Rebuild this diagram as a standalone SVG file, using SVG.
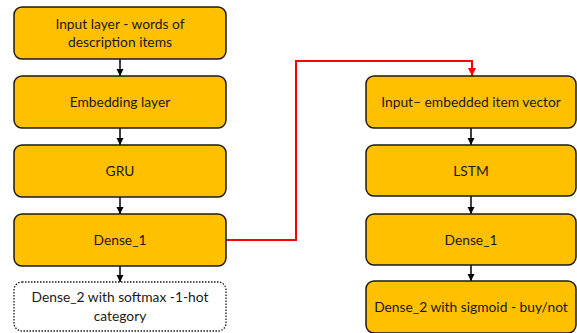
<svg xmlns="http://www.w3.org/2000/svg" width="577" height="333" viewBox="0 0 577 333">
<defs>
<marker id="ah" viewBox="0 0 10 10" refX="10" refY="5" markerWidth="5" markerHeight="5" orient="auto" markerUnits="strokeWidth"><path d="M0,0 L10,5 L0,10 z" fill="#000"/></marker>
<marker id="ahr" viewBox="0 0 10 10" refX="10" refY="5" markerWidth="4" markerHeight="4" orient="auto" markerUnits="strokeWidth"><path d="M0,0 L10,5 L0,10 z" fill="#FF0000"/></marker>
<style>
.box{fill:#FFC000;stroke:#1a1a1a;stroke-width:1.5}
.dbox{fill:#fff;stroke:#1a1a1a;stroke-width:1.3;stroke-dasharray:1.5 1.5}
text{font-family:Lato,"Open Sans","Liberation Sans",sans-serif;font-size:13.8px;fill:#1a1a1a;text-anchor:middle}
.c{stroke:#000;stroke-width:1.5;fill:none}
.r{stroke:#FF0000;stroke-width:2;fill:none}
</style>
</defs>
<rect width="577" height="333" fill="#fff"/>
<g id="connectors">
<line class="c" x1="120" y1="59" x2="120" y2="76" marker-end="url(#ah)"/>
<line class="c" x1="120" y1="128" x2="120" y2="145" marker-end="url(#ah)"/>
<line class="c" x1="120" y1="197" x2="120" y2="214" marker-end="url(#ah)"/>
<line class="c" x1="120" y1="266" x2="120" y2="282" marker-end="url(#ah)"/>
<line class="c" x1="471" y1="128" x2="471" y2="145" marker-end="url(#ah)"/>
<line class="c" x1="471" y1="196" x2="471" y2="214" marker-end="url(#ah)"/>
<line class="c" x1="471" y1="265" x2="471" y2="281" marker-end="url(#ah)"/>
<polyline class="r" points="226,240 296,240 296,61 472,61 472,76" marker-end="url(#ahr)"/>
</g>
<g id="n1"><rect class="box" x="14" y="7" width="212" height="52" rx="8"/><text x="120" y="29">Input layer - words of</text><text x="120" y="47">description items</text></g>
<g id="n2"><rect class="box" x="14" y="76" width="212" height="52" rx="8"/><text x="120" y="107">Embedding layer</text></g>
<g id="n3"><rect class="box" x="14" y="145" width="212" height="52" rx="8"/><text x="120" y="176">GRU</text></g>
<g id="n4"><rect class="box" x="14" y="214" width="212" height="52" rx="8"/><text x="120" y="245">Dense_1</text></g>
<g id="n5"><rect class="dbox" x="14" y="282" width="212" height="49" rx="8"/><text x="120" y="302">Dense_2 with softmax -1-hot</text><text x="120" y="321">category</text></g>
<g id="n6"><rect class="box" x="366" y="76" width="210" height="52" rx="8"/><text x="471" y="107">Input– embedded item vector</text></g>
<g id="n7"><rect class="box" x="366" y="145" width="210" height="51" rx="8"/><text x="471" y="175.5">LSTM</text></g>
<g id="n8"><rect class="box" x="366" y="214" width="210" height="51" rx="8"/><text x="471" y="244.5">Dense_1</text></g>
<g id="n9"><rect class="box" x="366" y="281" width="210" height="52" rx="8"/><text x="471" y="312">Dense_2 with sigmoid - buy/not</text></g>
</svg>
